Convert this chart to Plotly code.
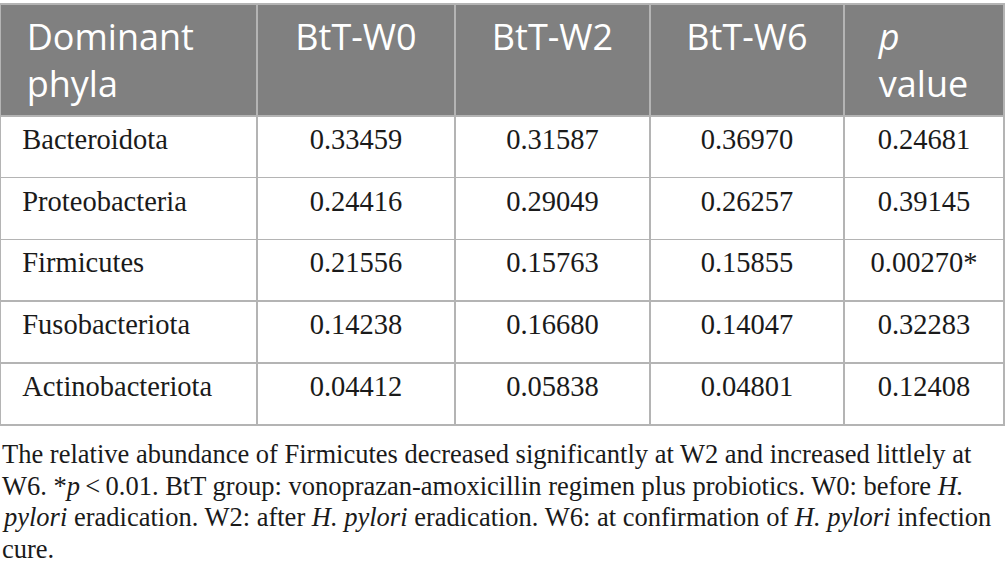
import plotly.graph_objects as go

phyla = ["Bacteroidota", "Proteobacteria", "Firmicutes", "Fusobacteriota", "Actinobacteriota"]
btt_w0 = ["0.33459", "0.24416", "0.21556", "0.14238", "0.04412"]
btt_w2 = ["0.31587", "0.29049", "0.15763", "0.16680", "0.05838"]
btt_w6 = ["0.36970", "0.26257", "0.15855", "0.14047", "0.04801"]
p_value = ["0.24681", "0.39145", "0.00270*", "0.32283", "0.12408"]
headers = ["Dominant<br>phyla", "BtT-W0", "BtT-W2", "BtT-W6", "<i>p</i><br>value"]

caption = [
    "The relative abundance of Firmicutes decreased significantly at W2 and increased littlely at",
    "W6. *<i>p</i>\u2009<\u20090.01. BtT group: vonoprazan-amoxicillin regimen plus probiotics. W0: before <i>H.</i>",
    "<i>pylori</i> eradication. W2: after <i>H. pylori</i> eradication. W6: at confirmation of <i>H. pylori</i> infection",
    "cure.",
]

pad = "\u00a0\u00a0"
# trailing <br> nudges text down a bit and keeps the table from re-wrapping it
body = [[pad + p for p in phyla], btt_w0, btt_w2, btt_w6, p_value]
body = [[v + "<br>" for v in col] for col in body]
head = [pad + headers[0].replace("<br>", "<br>" + pad)] + \
       [h if "<br>" in h else h + "<br>" for h in headers[1:]]

fig = go.Figure(go.Table(
    columnwidth=[257, 198, 195, 194, 160],
    header=dict(
        values=head,
        fill_color="#808080",
        line=dict(color="#b4b4b4", width=1.5),
        align=["left", "center", "center", "center", "center"],
        font=dict(family="Open Sans", size=36, color="white"),
        height=110,
    ),
    cells=dict(
        values=body,
        fill_color="white",
        line=dict(color="#b4b4b4", width=1.5),
        align=["left", "center", "center", "center", "center"],
        font=dict(family="Liberation Serif", size=28.5, color="#1a1a1a"),
        height=61.8,
    ),
    domain=dict(x=[0, 1], y=[0, 1]),
))

for i, line in enumerate(caption):
    fig.add_annotation(
        text=line, xref="paper", yref="paper", x=0, y=(587 - 453 - 32 * i) / 587,
        xanchor="left", yanchor="middle", showarrow=False, align="left",
        font=dict(family="Liberation Serif", size=26.5, color="#1a1a1a"),
    )

fig.update_layout(
    width=1005, height=587,
    margin=dict(l=0, r=1, t=4, b=0),
    paper_bgcolor="white",
)
fig.write_html("out.html", config={"displayModeBar": False},
               post_script="document.body.style.margin='0';")
